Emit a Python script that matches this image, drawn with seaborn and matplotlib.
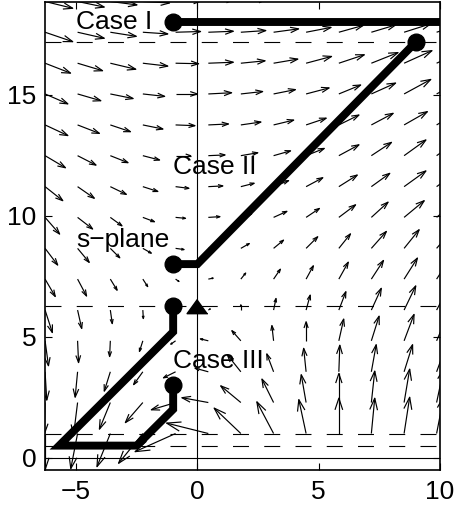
import numpy as np
import matplotlib
matplotlib.use("Agg")
import matplotlib.pyplot as plt
import seaborn as sns
import pandas as pd
from matplotlib.collections import LineCollection

# ---------------- data ----------------
x_grid = [-6.28, -4.94, -3.59, -2.25, -0.90, 0.45, 1.79, 3.14, 4.48, 5.83, 7.17, 8.52, 9.86]
y_grid = [1.0, 2.28, 3.55, 4.83, 6.10, 7.38, 8.65, 9.93, 11.20, 12.48, 13.75, 15.03, 16.30, 17.58, 18.85]

# arrow components (rows bottom -> top, columns left -> right), data units
U = [
    [0.00, -0.28, -0.55, -1.00, -1.67, -1.72, -1.10, -0.69, -0.30, 0.00, 0.14, 0.23, 0.30],
    [-0.03, -0.17, -0.45, -0.72, -1.00, -1.09, -0.83, -0.48, -0.20, 0.00, 0.14, 0.23, 0.30],
    [0.07, -0.10, -0.25, -0.38, -0.50, -0.55, -0.55, -0.28, -0.10, 0.04, 0.20, 0.35, 0.42],
    [0.14, 0.04, -0.03, -0.14, -0.20, -0.33, -0.37, -0.07, 0.00, 0.20, 0.32, 0.41, 0.48],
    [0.30, 0.17, 0.08, 0.02, 0.00, 0.08, 0.00, 0.10, 0.17, 0.29, 0.41, 0.48, 0.55],
    [0.42, 0.37, 0.28, 0.20, 0.14, 0.20, 0.20, 0.28, 0.30, 0.39, 0.50, 0.55, 0.60],
    [0.52, 0.48, 0.39, 0.35, 0.35, 0.30, 0.35, 0.41, 0.48, 0.48, 0.62, 0.62, 0.70],
    [0.60, 0.62, 0.48, 0.48, 0.41, 0.48, 0.45, 0.55, 0.55, 0.69, 0.69, 0.83, 0.88],
    [0.73, 0.69, 0.66, 0.62, 0.55, 0.60, 0.55, 0.62, 0.69, 0.76, 0.76, 0.90, 0.95],
    [0.84, 0.76, 0.73, 0.69, 0.62, 0.69, 0.70, 0.70, 0.75, 0.83, 0.83, 0.90, 0.95],
    [0.94, 0.90, 0.83, 0.83, 0.80, 0.83, 0.83, 0.83, 0.83, 0.83, 0.90, 0.96, 1.00],
    [0.94, 0.96, 0.94, 0.90, 0.90, 0.96, 0.90, 0.90, 0.95, 0.90, 1.00, 1.10, 1.15],
    [1.05, 1.03, 1.05, 1.03, 0.95, 1.03, 1.00, 1.00, 1.05, 1.05, 1.10, 1.15, 1.20],
    [1.14, 1.10, 1.07, 1.03, 1.03, 1.03, 1.03, 1.03, 1.03, 1.00, 1.00, 1.10, 1.20],
    [1.14, 1.10, 1.10, 1.10, 1.10, 1.10, 1.10, 1.10, 1.10, 1.10, 1.10, 1.15, 1.20],
]
V = [
    [-1.50, -1.45, -1.37, -1.23, -0.75, 0.43, 1.05, 1.31, 1.40, 1.46, 1.46, 1.50, 1.55],
    [-1.30, -1.38, -1.10, -0.83, -0.30, 0.20, 0.69, 0.97, 1.15, 1.20, 1.30, 1.38, 1.42],
    [-1.17, -1.05, -0.80, -0.53, -0.25, 0.15, 0.69, 0.74, 0.97, 1.10, 1.12, 1.12, 1.15],
    [-1.03, -0.90, -0.65, -0.44, -0.14, 0.08, 0.42, 0.63, 0.79, 0.90, 1.02, 1.09, 1.12],
    [-0.93, -0.76, -0.56, -0.35, -0.10, 0.05, 0.22, 0.48, 0.62, 0.76, 0.90, 1.00, 1.05],
    [-0.72, -0.70, -0.46, -0.31, -0.10, 0.04, 0.25, 0.41, 0.55, 0.70, 0.77, 0.87, 0.92],
    [-0.69, -0.58, -0.39, -0.20, -0.05, 0.05, 0.20, 0.34, 0.48, 0.60, 0.70, 0.77, 0.82],
    [-0.69, -0.48, -0.35, -0.18, -0.04, 0.03, 0.15, 0.25, 0.37, 0.52, 0.63, 0.69, 0.75],
    [-0.58, -0.48, -0.32, -0.20, -0.07, 0.03, 0.14, 0.25, 0.37, 0.48, 0.55, 0.65, 0.70],
    [-0.50, -0.39, -0.29, -0.18, 0.00, 0.03, 0.12, 0.20, 0.30, 0.45, 0.55, 0.65, 0.68],
    [-0.44, -0.35, -0.28, -0.17, -0.03, 0.04, 0.12, 0.20, 0.28, 0.41, 0.48, 0.55, 0.60],
    [-0.41, -0.28, -0.19, -0.10, 0.00, 0.05, 0.10, 0.18, 0.25, 0.37, 0.45, 0.60, 0.62],
    [-0.41, -0.31, -0.25, -0.12, -0.02, 0.04, 0.10, 0.17, 0.28, 0.35, 0.44, 0.52, 0.56],
    [-0.39, -0.25, -0.17, -0.07, 0.03, 0.04, 0.07, 0.14, 0.20, 0.28, 0.30, 0.35, 0.40],
    [-0.28, -0.23, -0.14, -0.06, 0.04, 0.10, 0.10, 0.17, 0.22, 0.30, 0.33, 0.38, 0.42],
]

dashed_levels = [0.5, 1.0, 6.2832, 17.17]

case1_x = [-1, 10]
case1_y = [18, 18]
case2_x = [-1, 0, 9]
case2_y = [8, 8, 17.17]
case3_x = [-1, -1, -2.5, -5.7, -1, -1]
case3_y = [3, 2, 0.5, 0.5, 5.2, 6.2832]
dots_x = [-1, 9, -1, -1, -1]
dots_y = [18, 17.17, 8, 3, 6.2832]
tri_x = [0]
tri_y = [6.2832]

labels = ["Case I", "Case II", "s\u2212plane", "Case III"]
label_x = [-5, -1, -5, -1]
label_y = [18, 12, 9, 4]

x_ticks = [-5, 0, 5, 10]
y_ticks = [0, 5, 10, 15]
x_limits = [-6.2832, 10]
y_limits = [-0.52, 18.85]

# ---------------- plotting ----------------
sns.set_style("ticks")
plt.rcParams['font.family'] = ['Liberation Sans', 'DejaVu Sans']
plt.rcParams['lines.scale_dashes'] = False

fig = plt.figure(figsize=(4.54, 5.12), dpi=100)
ax = fig.add_axes([45 / 454, (512 - 470.3) / 512, (440 - 45) / 454, (470.3 - 1.5) / 512])

# reference lines
for lv in dashed_levels:
    ax.plot(x_limits, [lv, lv], color='black', lw=0.8, dashes=(11.5, 11), zorder=1)
ax.plot(x_limits, [0, 0], color='black', lw=0.8, zorder=1)
ax.plot([0, 0], y_limits, color='black', lw=0.8, zorder=1)

# MATLAB-style quiver (open heads)
Xg, Yg = np.meshgrid(np.array(x_grid), np.array(y_grid))
Ua = np.array(U)
Va = np.array(V)
alpha, beta = 0.33, 0.33
segs = []
for x, y, u, v in zip(Xg.ravel(), Yg.ravel(), Ua.ravel(), Va.ravel()):
    tx, ty = x + u, y + v
    segs.append([(x, y), (tx, ty)])
    h1 = (tx - alpha * (u + beta * v), ty - alpha * (v - beta * u))
    h2 = (tx - alpha * (u - beta * v), ty - alpha * (v + beta * u))
    segs.append([h1, (tx, ty), h2])
ax.add_collection(LineCollection(segs, colors='black', linewidths=0.85, zorder=2))

# thick trajectories
for px, py in [(case1_x, case1_y), (case2_x, case2_y), (case3_x, case3_y)]:
    df = pd.DataFrame({"x": px, "y": py})
    sns.lineplot(data=df, x="x", y="y", sort=False, estimator=None, color='black',
                 lw=5.7, ax=ax, zorder=3, solid_joinstyle='miter', solid_capstyle='butt')
ax.plot(dots_x, dots_y, 'o', color='black', ms=12, zorder=4)
ax.plot(tri_x, tri_y, marker=[(0, 1), (-1.45, -1), (1.45, -1)], ls='none',
        color='black', ms=15, zorder=4)

for t, tx, ty in zip(labels, label_x, label_y):
    ax.text(tx, ty, t, ha='left', va='center', fontsize=19, color='black', zorder=5)

ax.set_xlim(x_limits)
ax.set_ylim(y_limits)
ax.set_xticks(x_ticks)
ax.set_yticks(y_ticks)
ax.set_xticklabels(["\u22125", "0", "5", "10"])
ax.set_xlabel("")
ax.set_ylabel("")
ax.tick_params(direction='in', top=True, right=True, length=5, width=0.8,
               labelsize=19, colors='black')
ax.tick_params(axis='x', pad=7)
ax.tick_params(axis='y', pad=6)
for s in ax.spines.values():
    s.set_visible(True)
    s.set_linewidth(1.2)
    s.set_color('black')

fig.savefig("out.png", dpi=100)
